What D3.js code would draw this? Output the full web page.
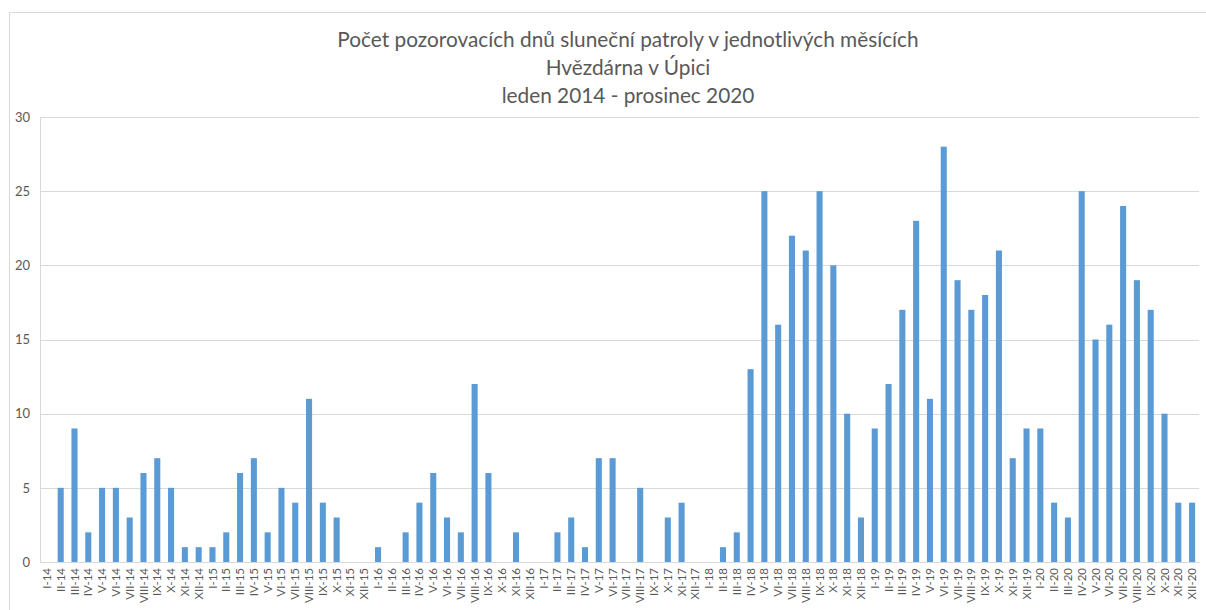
<!DOCTYPE html>
<html>
<head>
<meta charset="utf-8">
<script src="https://cdn.jsdelivr.net/npm/d3@7"></script>
<style>
  body { margin: 0; background: #fff; }
  text { font-family: Lato, "Open Sans", sans-serif; fill: #595959; }
</style>
</head>
<body>
<div id="chart"></div>
<script>
var W = 1206, H = 610;
var margin = {top: 117, right: 7, bottom: 48, left: 40};
var width = W - margin.left - margin.right;
var height = H - margin.top - margin.bottom;

// data
var titleLines = ["Počet pozorovacích dnů sluneční patroly v jednotlivých měsících",
                  "Hvězdárna v Úpici",
                  "leden 2014 - prosinec 2020"];
var monthNames = ["I","II","III","IV","V","VI","VII","VIII","IX","X","XI","XII"];
var years = ["14","15","16","17","18","19","20"];
var yTicks = [0, 5, 10, 15, 20, 25, 30];

var days2014 = [0, 5, 9, 2, 5, 5, 3, 6, 7, 5, 1, 1];
var days2015 = [1, 2, 6, 7, 2, 5, 4, 11, 4, 3, 0, 0];
var days2016 = [1, 0, 2, 4, 6, 3, 2, 12, 6, 0, 2, 0];
var days2017 = [0, 2, 3, 1, 7, 7, 0, 5, 0, 3, 4, 0];
var days2018 = [0, 1, 2, 13, 25, 16, 22, 21, 25, 20, 10, 3];
var days2019 = [9, 12, 17, 23, 11, 28, 19, 17, 18, 21, 7, 9];
var days2020 = [9, 4, 3, 25, 15, 16, 24, 19, 17, 10, 4, 4];

var allYears = [days2014, days2015, days2016, days2017, days2018, days2019, days2020];
var data = [];
allYears.forEach(function(arr, yi){
	arr.forEach(function(v, mi){
		data.push({label: monthNames[mi] + "-" + years[yi], value: v});
	});
});

var svg = d3.select('#chart').append('svg')
	.attr("width", W)
	.attr("height", H);

// outer chart border
svg.append("rect")
	.attr("x", 9.5).attr("y", 12.5)
	.attr("width", W + 10).attr("height", H + 10)
	.attr("fill", "none")
	.attr("stroke", "#d9d9d9");

// title
svg.selectAll(".title")
	.data(titleLines)
	.enter().append("text")
	.attr("class", "title")
	.attr("x", 628)
	.attr("y", function(d, i){ return 47 + i * 28; })
	.attr("text-anchor", "middle")
	.style("font-size", "20.8px")
	.text(function(d){ return d; });

var g = svg.append("g")
	.attr("transform", "translate(" + margin.left + "," + margin.top + ")");

var xscale = d3.scaleBand()
	.range([0, width])
	.domain(data.map(function(d){ return d.label; }))
	.paddingInner(0.56)
	.paddingOuter(0.28);

var yscale = d3.scaleLinear()
	.domain([0, 30])
	.range([height, 0]);

// gridlines
g.selectAll(".grid")
	.data(yTicks)
	.enter().append("line")
	.attr("class", "grid")
	.attr("x1", 0).attr("x2", width)
	.attr("y1", function(d){ return Math.round(yscale(d)) + 0.5; })
	.attr("y2", function(d){ return Math.round(yscale(d)) + 0.5; })
	.attr("stroke", "#d9d9d9");

// left plot line
g.append("line")
	.attr("x1", 0.5).attr("x2", 0.5)
	.attr("y1", 0).attr("y2", height)
	.attr("stroke", "#d9d9d9");

// bars
g.selectAll(".bar")
	.data(data)
	.enter().append("rect")
	.attr("class", "bar")
	.attr("x", function(d){ return xscale(d.label); })
	.attr("width", xscale.bandwidth())
	.attr("y", function(d){ return yscale(d.value); })
	.attr("height", function(d){ return height - yscale(d.value); })
	.attr("fill", "#5b9bd5");

// y axis
var yaxis = d3.axisLeft(yscale).tickValues(yTicks).tickSize(0).tickPadding(10);
var yg = g.append("g").call(yaxis);
yg.select(".domain").remove();
yg.selectAll("text").style("font-size", "13px").style("font-family", "Lato, sans-serif");

// x axis
var xaxis = d3.axisBottom(xscale).tickSize(0);
var xg = g.append("g")
	.attr("transform", "translate(0," + height + ")")
	.call(xaxis);
xg.select(".domain").attr("stroke", "#d9d9d9");
xg.selectAll("text")
	.style("font-size", "11.5px")
	.style("font-family", "Lato, sans-serif")
	.attr("text-anchor", "end")
	.attr("transform", "rotate(-90)")
	.attr("x", -6)
	.attr("y", 0)
	.attr("dy", "0.35em");
</script>
</body>
</html>
